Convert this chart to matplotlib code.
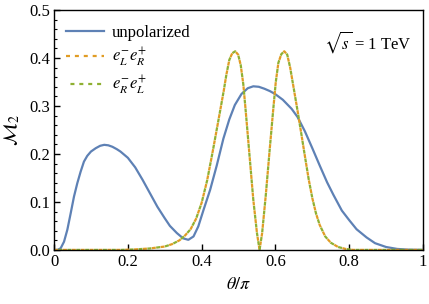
import numpy as np
import matplotlib.pyplot as plt

plt.rcParams['font.family'] = ['Liberation Serif', 'DejaVu Serif']
plt.rcParams['mathtext.fontset'] = 'stix'

# unpolarized curve (theta/pi, M2)
theta_unpol = [0.0, 0.01, 0.018, 0.027, 0.036, 0.045, 0.054, 0.063, 0.072, 0.081,
               0.09, 0.10, 0.113, 0.125, 0.136, 0.147, 0.158, 0.17, 0.18, 0.20,
               0.22, 0.24, 0.26, 0.28, 0.30, 0.314, 0.333, 0.35, 0.364, 0.378,
               0.391, 0.405, 0.423, 0.441, 0.459, 0.475, 0.49, 0.508, 0.525,
               0.54, 0.555, 0.57, 0.585, 0.599, 0.62, 0.644, 0.66, 0.68, 0.70,
               0.72, 0.74, 0.757, 0.78, 0.80, 0.82, 0.847, 0.87, 0.90, 0.93,
               0.96, 1.0]
m2_unpol = [0.0, 0.0, 0.0035, 0.017, 0.042, 0.076, 0.111, 0.139, 0.163, 0.184,
            0.196, 0.205, 0.212, 0.217, 0.219, 0.218, 0.215, 0.210, 0.205, 0.192,
            0.172, 0.146, 0.118, 0.090, 0.066, 0.050, 0.035, 0.024, 0.021, 0.028,
            0.049, 0.083, 0.125, 0.176, 0.232, 0.272, 0.302, 0.325, 0.337,
            0.341, 0.340, 0.336, 0.331, 0.325, 0.313, 0.294, 0.277, 0.247, 0.212,
            0.176, 0.141, 0.115, 0.082, 0.062, 0.043, 0.026, 0.014, 0.006, 0.002,
            0.0005, 0.0]

# polarized curves (both helicity combinations coincide)
theta_pol = [0.0, 0.18, 0.22, 0.26, 0.30, 0.32, 0.34, 0.355, 0.37, 0.385, 0.40,
             0.415, 0.43, 0.445, 0.46, 0.467, 0.475, 0.483, 0.491, 0.499, 0.506,
             0.513, 0.52, 0.53, 0.54, 0.55, 0.557, 0.564, 0.574, 0.584, 0.594,
             0.601, 0.608, 0.616, 0.624, 0.632, 0.64, 0.65, 0.66, 0.67, 0.68,
             0.69, 0.70, 0.71, 0.72, 0.735, 0.75, 0.77, 0.79, 0.81, 1.0]
m2_LR = [0.0, 0.0, 0.001, 0.003, 0.007, 0.012, 0.020, 0.030, 0.043, 0.065, 0.098,
         0.145, 0.205, 0.268, 0.332, 0.365, 0.396, 0.410, 0.414, 0.407, 0.385,
         0.345, 0.285, 0.195, 0.105, 0.035, 0.0, 0.035, 0.115, 0.205, 0.292,
         0.350, 0.390, 0.408, 0.414, 0.407, 0.380, 0.335, 0.290, 0.243, 0.195,
         0.148, 0.108, 0.076, 0.052, 0.028, 0.015, 0.006, 0.002, 0.0, 0.0]
m2_RL = list(m2_LR)

x_ticks = [0, 0.2, 0.4, 0.6, 0.8, 1]
x_ticklabels = ['0', '0.2', '0.4', '0.6', '0.8', '1']
y_ticks = [0.0, 0.1, 0.2, 0.3, 0.4, 0.5]
y_ticklabels = ['0.0', '0.1', '0.2', '0.3', '0.4', '0.5']

fig = plt.figure(figsize=(4.29, 3.04), dpi=100)
ax = fig.add_axes([0.126, 0.178, 0.860, 0.789])

ax.plot(theta_unpol, m2_unpol, color='#5E81B5', lw=1.6, label='unpolarized')
ax.plot(theta_pol, m2_LR, color='#E19C24', lw=1.6, ls=(0, (1.8, 2.2)),
        label=r'$e_L^{-}e_R^{+}$')
ax.plot(theta_pol, m2_RL, color='#8FB032', lw=1.6, ls=(2.0, (1.8, 2.2)),
        label=r'$e_R^{-}e_L^{+}$')

ax.set_xlim(0, 1)
ax.set_ylim(0, 0.5)
ax.set_xticks(x_ticks)
ax.set_xticklabels(x_ticklabels)
ax.set_yticks(y_ticks)
ax.set_yticklabels(y_ticklabels)
ax.set_yticks(np.arange(0, 0.5, 0.02), minor=True)
ax.tick_params(axis='both', which='major', direction='in', length=4, width=1,
               labelsize=12, colors='black', top=False, right=False, pad=3)
ax.tick_params(axis='y', which='minor', direction='in', length=2, width=0.8,
               right=False)
for s in ax.spines.values():
    s.set_linewidth(1.0)

ax.set_xlabel(r'$\theta/\pi$', fontsize=13, labelpad=4)
ax.set_ylabel(r'$\mathcal{M}_2$', fontsize=14, labelpad=5)

ax.legend(loc='upper left', frameon=False, fontsize=12, handlelength=2.3,
          handletextpad=0.45, labelspacing=0.28, borderaxespad=0.3,
          bbox_to_anchor=(0.0, 0.985))
ax.text(0.97, 0.867, r'$\sqrt{s}$ = 1 TeV', transform=ax.transAxes,
        ha='right', va='center', fontsize=12)

plt.savefig('out.png', dpi=100)
plt.close()
